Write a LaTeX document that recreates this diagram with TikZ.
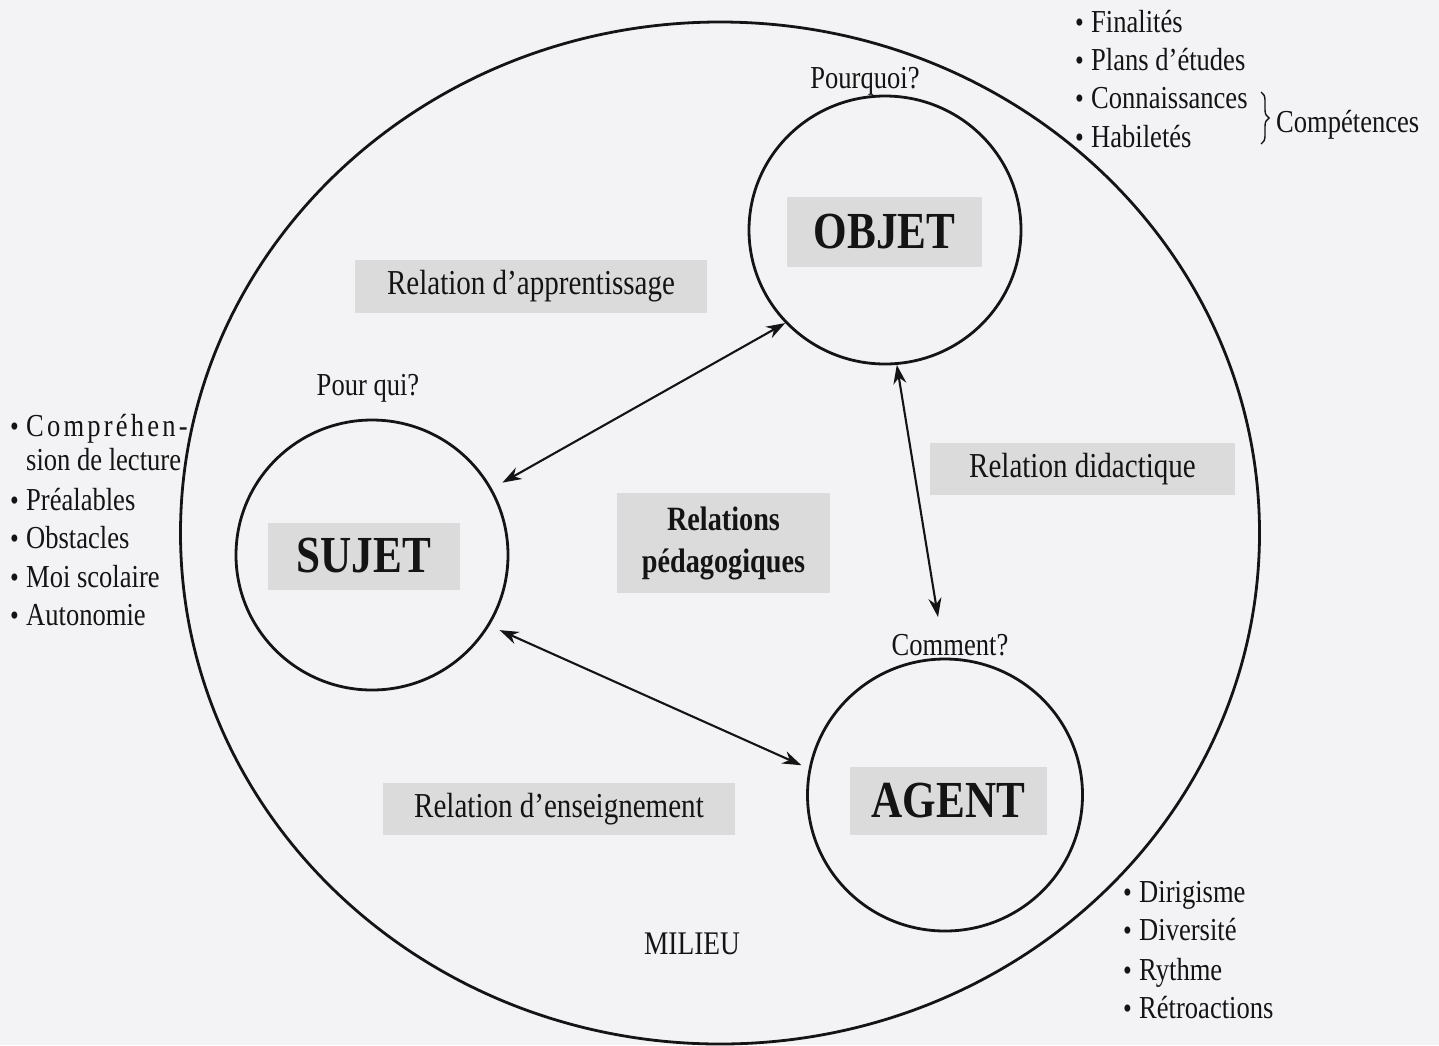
\documentclass[tikz,border=0pt]{standalone}
\usepackage{fontspec}
\setmainfont{Liberation Serif}[FakeStretch=0.83]
\usetikzlibrary{shapes.geometric,arrows.meta,decorations.pathreplacing}
\definecolor{bg}{RGB}{243,243,245}
\definecolor{boxgray}{RGB}{219,219,219}
\definecolor{ink}{RGB}{20,20,20}
\newcommand{\bul}{\makebox[16pt][l]{{\fontsize{30}{30}\selectfont•}}}
\begin{document}
\begin{tikzpicture}[x=1pt,y=-1pt,
  ring/.style={draw=ink, line width=2.8pt, ellipse, inner sep=0pt},
  graybox/.style={fill=boxgray, inner sep=0pt, text=ink},
  bigword/.style={graybox, font=\fontsize{52}{60}\selectfont\bfseries},
  rel/.style={graybox, font=\fontsize{35}{40}\selectfont},
  lbl/.style={font=\fontsize{32}{38}\selectfont, text=ink, inner sep=0pt},
  item/.style={lbl, anchor=base west},
  link/.style={draw=ink, line width=2.1pt, arrows={Stealth[length=19pt,width=13pt]-Stealth[length=19pt,width=13pt]}},
]
\fill[bg] (0,0) rectangle (1439,1045);
\useasboundingbox (0,0) rectangle (1439,1045);

% gray boxes with main words
\node[bigword, minimum width=195pt, minimum height=70pt] (objbox) at (884.5,232) {OBJET};
\node[bigword, minimum width=192pt, minimum height=67pt] (sujbox) at (364,556) {SUJET};
\node[bigword, minimum width=197pt, minimum height=68pt] (agbox) at (948.5,801) {AGENT};
\node[rel, minimum width=352pt, minimum height=53pt] (appbox) at (531,286.5) {Relation d’apprentissage};
\node[rel, minimum width=305pt, minimum height=52pt] (didbox) at (1082.5,469) {Relation didactique};
\node[rel, minimum width=352pt, minimum height=52pt] (ensbox) at (559,809) {Relation d’enseignement};
\node[graybox, minimum width=213pt, minimum height=100pt, align=center,
      font=\fontsize{34}{42}\selectfont\bfseries] (pedbox) at (723.5,543) {Relations\\pédagogiques};

% circles
\node[ring, minimum width=1079pt, minimum height=1022pt] (milieu) at (720,533) {};
\node[ring, minimum width=272pt, minimum height=268pt] (objet) at (885,230) {};
\node[ring, minimum width=272pt, minimum height=270pt] (sujet) at (372,555) {};
\node[ring, minimum width=275pt, minimum height=272pt] (agent) at (945,795) {};

% question labels
\node[lbl, anchor=base] (pourquoi) at (865,88) {Pourquoi?};
\node[lbl, anchor=base] (pourqui) at (368,395) {Pour qui?};
\node[lbl, anchor=base] (comment) at (950,655) {Comment?};
\node[lbl, anchor=base, font=\fontsize{33}{38}\selectfont] (mil) at (692,954) {MILIEU};

% connectors
\coordinate (ctip) at (938,617);
\draw[link, shorten <=12pt] (sujet.29) -- (objet.223);
\draw[link] (objet.275) -- (ctip);
\draw[link, shorten <=11pt, shorten >=8pt] (sujet.-31.6) -- (agent.169);

% top right list
\node[item] (i1) at (1075,32) {\bul Finalités};
\node[item] (i2) at (1075,70) {\bul Plans d’études};
\node[item] (i3) at (1075,108) {\bul Connaissances};
\node[item] (i4) at (1075,147) {\bul Habiletés};
\coordinate (bt) at (1261,92);
\coordinate (bb) at (1261,144);
\draw[ink, line width=1.4pt, decorate, decoration={brace, amplitude=8pt}] (bt) -- (bb);
\node[item] (comp) at (1276,132) {Compétences};

% left list
\node[item] (l1) at (10,436) {\bul{\addfontfeature{LetterSpace=10}Compréhen-}};
\node[item] (l1b) at (26,470) {sion de lecture};
\node[item] (l2) at (10,510) {\bul Préalables};
\node[item] (l3) at (10,548) {\bul Obstacles};
\node[item] (l4) at (10,587) {\bul Moi scolaire};
\node[item] (l5) at (10,625) {\bul Autonomie};

% bottom right list
\node[item] (r1) at (1123,902) {\bul Dirigisme};
\node[item] (r2) at (1123,940) {\bul Diversité};
\node[item] (r3) at (1123,980) {\bul Rythme};
\node[item] (r4) at (1123,1018) {\bul Rétroactions};
\end{tikzpicture}
\end{document}
